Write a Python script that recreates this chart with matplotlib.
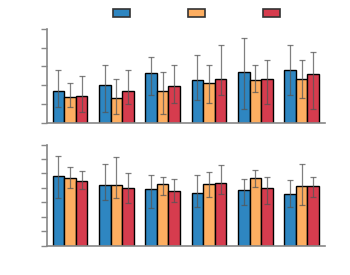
import numpy as np
import matplotlib
matplotlib.use("Agg")
import matplotlib.pyplot as plt
from matplotlib.patches import Patch

# values (tick units)
groups = np.arange(6)
series_colors = ["#2e86c1", "#fdae61", "#d63c4e"]

top_vals = [[1.72, 1.99, 2.66, 2.26, 2.73, 2.79],
            [1.39, 1.35, 1.69, 2.10, 2.27, 2.36],
            [1.44, 1.69, 1.95, 2.33, 2.33, 2.59]]
top_hi = [[2.84, 3.10, 3.48, 3.62, 4.49, 4.12],
          [2.10, 2.34, 2.73, 3.10, 3.10, 3.37],
          [2.47, 2.84, 3.10, 4.12, 3.37, 3.75]]
top_lo = [[0.85, 0.60, 1.47, 1.24, 0.73, 1.47],
          [0.85, 0.48, 0.48, 1.08, 1.62, 1.35],
          [0.60, 0.98, 1.08, 1.47, 0.98, 0.73]]

bot_vals = [[4.83, 4.18, 3.93, 3.63, 3.83, 3.56],
            [4.71, 4.18, 4.30, 4.25, 4.67, 4.16],
            [4.46, 4.00, 3.81, 4.36, 3.97, 4.11]]
bot_hi = [[6.19, 5.64, 4.87, 4.87, 4.60, 4.53],
          [5.43, 6.12, 4.78, 5.08, 5.22, 5.64],
          [5.15, 5.01, 4.64, 5.57, 4.73, 4.73]]
bot_lo = [[3.33, 3.14, 2.59, 2.66, 2.79, 2.66],
          [3.97, 3.28, 3.49, 3.37, 4.09, 2.79],
          [3.90, 2.93, 3.00, 3.56, 2.86, 3.39]]

fig = plt.figure(figsize=(3.5, 2.75), dpi=100)
ax1 = fig.add_axes([0.134, 0.553, 0.794, 0.342])
ax2 = fig.add_axes([0.134, 0.107, 0.794, 0.367])

w = 0.25


def draw(ax, vals, hi, lo, ymax):
    for i in range(3):
        x = groups + (i - 1) * w
        v = np.array(vals[i])
        yerr = [v - np.array(lo[i]), np.array(hi[i]) - v]
        ax.bar(x, v, w, color=series_colors[i], edgecolor="black", linewidth=1.0)
        ax.errorbar(x, v, yerr=yerr, fmt="none", ecolor="#555555", alpha=0.75,
                    elinewidth=0.9, capsize=2.5, capthick=0.9)
    ax.set_xlim(-0.5, 5.5)
    ax.set_ylim(0, ymax)
    ax.set_yticks(np.arange(ymax + 1))
    ax.set_xticks([])
    ax.set_yticklabels([])
    for s in ["top", "right"]:
        ax.spines[s].set_visible(False)
    for s in ["left", "bottom"]:
        ax.spines[s].set_color("#888888")
        ax.spines[s].set_linewidth(1.2)
    ax.tick_params(axis="y", color="#888888", length=4, width=1.0)


draw(ax1, top_vals, top_hi, top_lo, 5)
draw(ax2, bot_vals, bot_hi, bot_lo, 7)

handles = [Patch(facecolor=c, edgecolor="#333333", linewidth=1.2) for c in series_colors]
fig.legend(handles, ["", "", ""], loc="center", bbox_to_anchor=(0.561, 0.949), ncol=3,
           frameon=False, handlelength=1.22, handleheight=0.5, columnspacing=4.2,
           handletextpad=0.0)

fig.savefig("out.png", dpi=100)
